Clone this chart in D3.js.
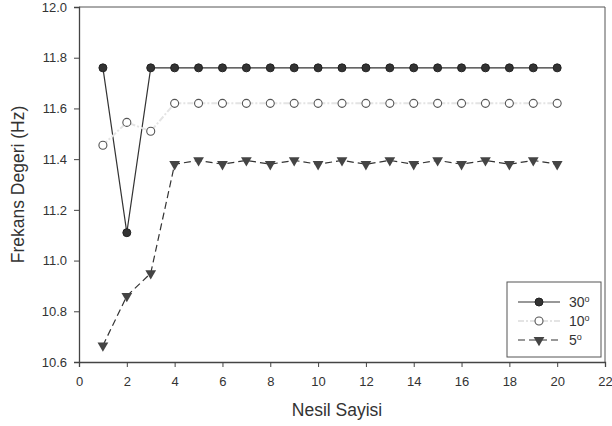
<!DOCTYPE html>
<html>
<head>
<meta charset="utf-8">
<script src="https://cdn.jsdelivr.net/npm/d3@7"></script>
<style>
  body { margin: 0; background: #fff; }
  svg { font-family: "Liberation Sans", Arial, sans-serif; }
  .tick text { fill: #333; font-size: 13px; }
  .axis path, .axis line { stroke: #444; }
</style>
</head>
<body>
<div id="chart"></div>
<script>
// Nesil sayisi (generation) on x
var generations = [1, 2, 3, 4, 5, 6, 7, 8, 9, 10, 11, 12, 13, 14, 15, 16, 17, 18, 19, 20];

var deg30 = [11.76, 11.11, 11.76, 11.76, 11.76, 11.76, 11.76, 11.76, 11.76, 11.76,
             11.76, 11.76, 11.76, 11.76, 11.76, 11.76, 11.76, 11.76, 11.76, 11.76];
var deg10 = [11.455, 11.545, 11.51, 11.62, 11.62, 11.62, 11.62, 11.62, 11.62, 11.62,
             11.62, 11.62, 11.62, 11.62, 11.62, 11.62, 11.62, 11.62, 11.62, 11.62];
var deg5  = [10.665, 10.86, 10.95, 11.38, 11.395, 11.38, 11.395, 11.38, 11.395, 11.38,
             11.395, 11.38, 11.395, 11.38, 11.395, 11.38, 11.395, 11.38, 11.395, 11.38];

var xTicks = [0, 2, 4, 6, 8, 10, 12, 14, 16, 18, 20, 22];
var yTicks = [10.6, 10.8, 11.0, 11.2, 11.4, 11.6, 11.8, 12.0];

var svg = d3.select('#chart').append('svg').attr('width', 612).attr('height', 426);

var plotLeft = 79, plotRight = 605, plotTop = 7, plotBottom = 362;

var x = d3.scaleLinear().domain([0, 22]).range([plotLeft, plotRight]);
var y = d3.scaleLinear().domain([10.6, 12.0]).range([plotBottom, plotTop]);

// frame top and right
svg.append('line').attr('x1', plotLeft).attr('x2', plotRight).attr('y1', plotTop).attr('y2', plotTop)
    .attr('stroke', '#555');
svg.append('line').attr('x1', plotRight).attr('x2', plotRight).attr('y1', plotTop).attr('y2', plotBottom)
    .attr('stroke', '#555');

svg.append('g')
    .attr('class', 'axis')
    .attr('transform', `translate(0, ${plotBottom})`)
    .call(d3.axisBottom(x).tickValues(xTicks).tickSize(5).tickPadding(10).tickFormat(d3.format('d')));

svg.append('g')
    .attr('class', 'axis')
    .attr('transform', `translate(${plotLeft}, 0)`)
    .call(d3.axisLeft(y).tickValues(yTicks).tickSize(5).tickPadding(7).tickFormat(d3.format('.1f')));

svg.selectAll('.axis .domain').attr('stroke-width', 1.3);

var series = [
    { name: '30', values: deg30, line: '#333', dash: null, marker: 'filled' },
    { name: '10', values: deg10, line: '#e4e4e4', dash: '6,2,2,2', marker: 'open' },
    { name: '5', values: deg5, line: '#333', dash: '7,4', marker: 'tri' }
];

var line = d3.line()
    .x((d, i) => x(generations[i]))
    .y(d => y(d));

function drawMarker(g, type, cx, cy) {
    if (type === 'filled') {
        g.append('circle').attr('cx', cx).attr('cy', cy).attr('r', 4)
            .attr('fill', '#333').attr('stroke', '#222');
    } else if (type === 'open') {
        g.append('circle').attr('cx', cx).attr('cy', cy).attr('r', 4)
            .attr('fill', '#fff').attr('stroke', '#555').attr('stroke-width', 1.1);
    } else {
        g.append('path')
            .attr('d', d3.symbol().type(d3.symbolTriangle).size(50))
            .attr('transform', `translate(${cx}, ${cy}) rotate(180)`)
            .attr('fill', '#444');
    }
}

series.forEach(s => {
    svg.append('path')
        .datum(s.values)
        .attr('d', line)
        .attr('fill', 'none')
        .attr('stroke', s.line)
        .attr('stroke-width', s.marker === 'open' ? 2 : 1.2)
        .attr('stroke-dasharray', s.dash);
    var mg = svg.append('g');
    s.values.forEach((v, i) => drawMarker(mg, s.marker, x(generations[i]), y(v)));
});

// legend
var legend = svg.append('g');
legend.append('rect')
    .attr('x', 507).attr('y', 282).attr('width', 94).attr('height', 75)
    .attr('fill', '#fff').attr('stroke', '#555');

series.forEach((s, i) => {
    var ly = 302 + i * 19;
    legend.append('line')
        .attr('x1', 518).attr('x2', 560).attr('y1', ly).attr('y2', ly)
        .attr('stroke', s.line)
        .attr('stroke-width', s.marker === 'open' ? 2 : 1.2)
        .attr('stroke-dasharray', s.dash);
    drawMarker(legend, s.marker, 539, ly);
    var t = legend.append('text')
        .attr('x', 569).attr('y', ly + 5)
        .attr('font-size', 14).attr('fill', '#333');
    t.append('tspan').text(s.name);
    t.append('tspan').attr('dy', -5).attr('font-size', 9).text('o');
});

svg.append('text')
    .attr('x', 337)
    .attr('y', 416)
    .attr('text-anchor', 'middle')
    .attr('font-size', 17.5)
    .attr('fill', '#333')
    .text('Nesil Sayisi');

svg.append('text')
    .attr('transform', `translate(24, ${(plotTop + plotBottom) / 2}) rotate(-90)`)
    .attr('text-anchor', 'middle')
    .attr('font-size', 17.5)
    .attr('fill', '#333')
    .text('Frekans Degeri (Hz)');
</script>
</body>
</html>
